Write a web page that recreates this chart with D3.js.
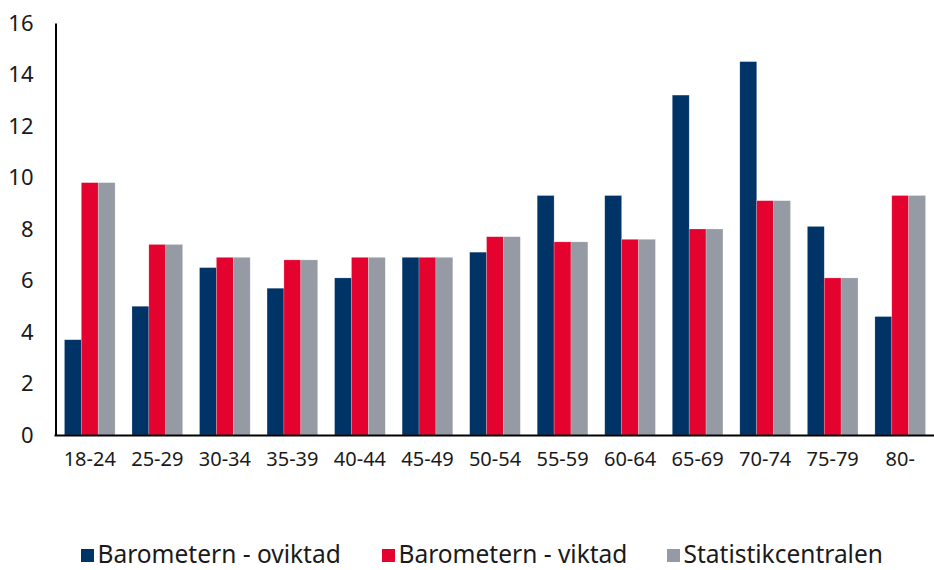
<!DOCTYPE html>
<html>
<head>
<meta charset="utf-8">
<script src="https://cdn.jsdelivr.net/npm/d3@7"></script>
<style>
  body { margin: 0; background: #fff; }
  text { font-family: "Noto Sans", sans-serif; fill: #1a1a1a; }
</style>
</head>
<body>
<svg id="chart" width="934" height="570"></svg>
<script>
const ageGroups = ["18-24", "25-29", "30-34", "35-39", "40-44", "45-49", "50-54", "55-59", "60-64", "65-69", "70-74", "75-79", "80-"];
const seriesNames = ["Barometern - oviktad", "Barometern - viktad", "Statistikcentralen"];
const oviktad = [3.7, 5.0, 6.5, 5.7, 6.1, 6.9, 7.1, 9.3, 9.3, 13.2, 14.5, 8.1, 4.6];
const viktad = [9.8, 7.4, 6.9, 6.8, 6.9, 6.9, 7.7, 7.5, 7.6, 8.0, 9.1, 6.1, 9.3];
const statistikcentralen = [9.8, 7.4, 6.9, 6.8, 6.9, 6.9, 7.7, 7.5, 7.6, 8.0, 9.1, 6.1, 9.3];
const yTicks = [0, 2, 4, 6, 8, 10, 12, 14, 16];
const seriesColors = ["#003366", "#e4032e", "#959aa5"];

const seriesValues = [oviktad, viktad, statistikcentralen];
const svg = d3.select("#chart");

const plotLeft = 56, plotRight = 934, plotTop = 23, plotBottom = 435;

const x0 = d3.scaleBand().domain(ageGroups).range([plotLeft, plotRight]).paddingInner(0.25).paddingOuter(0.125);
const x1 = d3.scaleBand().domain(seriesNames).range([0, x0.bandwidth()]);
const y = d3.scaleLinear().domain([0, 16]).range([plotBottom, plotTop]);

// bars
const groups = svg.append("g")
  .selectAll("g")
  .data(ageGroups)
  .join("g")
  .attr("transform", (d) => `translate(${x0(d)},0)`);

groups.selectAll("rect")
  .data((d, i) => seriesNames.map((name, s) => ({ name, value: seriesValues[s][i], color: seriesColors[s] })))
  .join("rect")
  .attr("x", (d) => x1(d.name))
  .attr("y", (d) => y(d.value))
  .attr("width", x1.bandwidth())
  .attr("height", (d) => y(0) - y(d.value))
  .attr("fill", (d) => d.color)
  .attr("stroke", "#ffffff")
  .attr("stroke-opacity", 0.35)
  .attr("stroke-width", 0.6);

// y axis
const yAxis = svg.append("g")
  .attr("transform", `translate(${plotLeft - 0.5},0)`)
  .call(d3.axisLeft(y).tickValues(yTicks).tickSize(0).tickPadding(22));
yAxis.select(".domain").attr("stroke", "#000").attr("stroke-width", 2);
yAxis.selectAll("text").attr("font-size", 22).style("font-family", "Noto Sans, sans-serif").attr("fill", "#1a1a1a");

// x axis
const xAxis = svg.append("g")
  .attr("transform", `translate(0,${plotBottom + 0.5})`)
  .call(d3.axisBottom(x0).tickSize(0).tickPadding(0).tickSizeOuter(0));
xAxis.select(".domain").attr("d", `M${plotLeft - 1.5},0H${plotRight}`).attr("stroke", "#000").attr("stroke-width", 2);
xAxis.selectAll("text")
  .attr("font-size", 20)
  .attr("dy", null)
  .attr("y", 30)
  .style("font-family", "Noto Sans, sans-serif")
  .attr("fill", "#1a1a1a");

// legend
const legendX = [81, 382, 667];
const legend = svg.append("g").attr("transform", "translate(0,562)");
seriesNames.forEach((name, i) => {
  const item = legend.append("g").attr("transform", `translate(${legendX[i]},0)`);
  item.append("rect").attr("x", 0).attr("y", -13).attr("width", 13).attr("height", 13).attr("fill", seriesColors[i]);
  item.append("text").attr("x", 16.5).attr("y", 0.5).attr("font-size", 24.5).text(name);
});
</script>
</body>
</html>
